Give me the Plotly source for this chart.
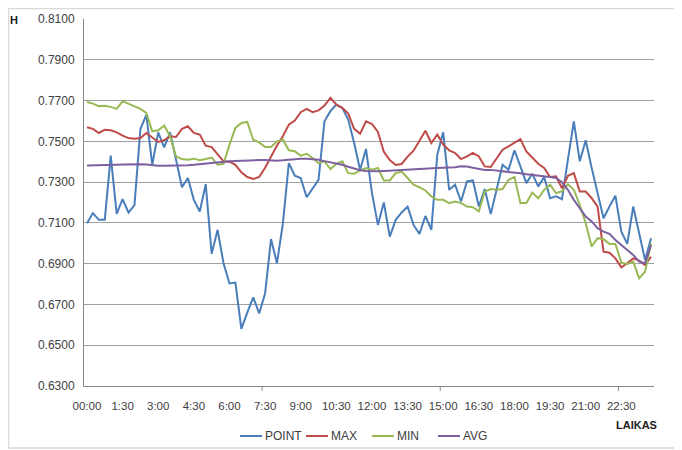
import plotly.graph_objects as go

times = ["00:00"] + [f"{i // 4}:{(i % 4) * 15:02d}" for i in range(1, 96)]
tick_labels = ["00:00", "1:30", "3:00", "4:30", "6:00", "7:30", "9:00", "10:30",
               "12:00", "13:30", "15:00", "16:30", "18:00", "19:30", "21:00", "22:30"]

point = [0.7098, 0.7148, 0.7115, 0.7115, 0.7430, 0.7144, 0.7216, 0.7150, 0.7187, 0.7560,
         0.7630, 0.7385, 0.7544, 0.7470, 0.7544, 0.7410, 0.7275, 0.7320, 0.7213, 0.7156,
         0.7290, 0.6948, 0.7066, 0.6902, 0.6803, 0.6807, 0.6580, 0.6660, 0.6735, 0.6656,
         0.6754, 0.7021, 0.6902, 0.7098, 0.7393, 0.7331, 0.7320, 0.7226, 0.7266, 0.7311,
         0.7598, 0.7648, 0.7680, 0.7664, 0.7607, 0.7492, 0.7361, 0.7462, 0.7246, 0.7090,
         0.7200, 0.7033, 0.7115, 0.7151, 0.7180, 0.7090, 0.7046, 0.7134, 0.7066, 0.7434,
         0.7544, 0.7262, 0.7287, 0.7205, 0.7303, 0.7308, 0.7180, 0.7266, 0.7143, 0.7266,
         0.7385, 0.7361, 0.7456, 0.7377, 0.7295, 0.7341, 0.7279, 0.7325, 0.7221, 0.7230,
         0.7216, 0.7410, 0.7598, 0.7402, 0.7505, 0.7370, 0.7250, 0.7123, 0.7180, 0.7233,
         0.7057, 0.6997, 0.7180, 0.7040, 0.6918, 0.7025]

max_v = [0.7569, 0.7561, 0.7541, 0.7557, 0.7554, 0.7544, 0.7528, 0.7516, 0.7513, 0.7516,
         0.7541, 0.7521, 0.7497, 0.7505, 0.7525, 0.7521, 0.7561, 0.7574, 0.7541, 0.7533,
         0.7479, 0.7472, 0.7435, 0.7402, 0.7400, 0.7385, 0.7348, 0.7325, 0.7315, 0.7325,
         0.7370, 0.7426, 0.7480, 0.7525, 0.7582, 0.7602, 0.7643, 0.7659, 0.7643, 0.7652,
         0.7675, 0.7713, 0.7680, 0.7664, 0.7636, 0.7561, 0.7538, 0.7598, 0.7585, 0.7546,
         0.7449, 0.7408, 0.7384, 0.7389, 0.7425, 0.7454, 0.7506, 0.7552, 0.7492, 0.7533,
         0.7484, 0.7456, 0.7443, 0.7413, 0.7426, 0.7443, 0.7426, 0.7377, 0.7374, 0.7418,
         0.7459, 0.7475, 0.7492, 0.7511, 0.7451, 0.7418, 0.7390, 0.7369, 0.7325, 0.7328,
         0.7270, 0.7331, 0.7344, 0.7254, 0.7254, 0.7221, 0.7180, 0.6959, 0.6954, 0.6926,
         0.6882, 0.6902, 0.6926, 0.6915, 0.6893, 0.6934]

min_v = [0.7693, 0.7685, 0.7672, 0.7675, 0.7669, 0.7659, 0.7697, 0.7685, 0.7672, 0.7659,
         0.7639, 0.7549, 0.7554, 0.7577, 0.7525, 0.7426, 0.7413, 0.7410, 0.7415, 0.7407,
         0.7413, 0.7420, 0.7385, 0.7390, 0.7484, 0.7566, 0.7590, 0.7595, 0.7508, 0.7495,
         0.7472, 0.7472, 0.7500, 0.7508, 0.7456, 0.7451, 0.7430, 0.7439, 0.7418, 0.7393,
         0.7402, 0.7364, 0.7390, 0.7402, 0.7344, 0.7341, 0.7357, 0.7369, 0.7361, 0.7369,
         0.7308, 0.7308, 0.7344, 0.7352, 0.7320, 0.7287, 0.7275, 0.7259, 0.7230, 0.7213,
         0.7213, 0.7197, 0.7205, 0.7197, 0.7180, 0.7177, 0.7156, 0.7254, 0.7266, 0.7262,
         0.7266, 0.7311, 0.7325, 0.7197, 0.7197, 0.7249, 0.7221, 0.7262, 0.7287, 0.7246,
         0.7255, 0.7290, 0.7262, 0.7189, 0.7098, 0.6984, 0.7025, 0.7020, 0.6997, 0.6997,
         0.6905, 0.6898, 0.6910, 0.6828, 0.6861, 0.7000]

avg_v = [0.7382, 0.7382, 0.7382, 0.7382, 0.7383, 0.7385, 0.7386, 0.7387, 0.7388, 0.7388,
         0.7386, 0.7382, 0.7380, 0.7380, 0.7380, 0.7380, 0.7380, 0.7383, 0.7385, 0.7388,
         0.7392, 0.7395, 0.7398, 0.7400, 0.7402, 0.7403, 0.7405, 0.7406, 0.7408, 0.7408,
         0.7408, 0.7406, 0.7405, 0.7407, 0.7410, 0.7413, 0.7415, 0.7415, 0.7412, 0.7410,
         0.7403, 0.7398, 0.7392, 0.7385, 0.7375, 0.7365, 0.7358, 0.7355, 0.7353, 0.7353,
         0.7354, 0.7356, 0.7358, 0.7360, 0.7362, 0.7364, 0.7366, 0.7367, 0.7368, 0.7369,
         0.7370, 0.7370, 0.7373, 0.7378, 0.7377, 0.7370, 0.7365, 0.7360, 0.7360, 0.7357,
         0.7355, 0.7352, 0.7347, 0.7343, 0.7338, 0.7335, 0.7333, 0.7330, 0.7325, 0.7320,
         0.7300, 0.7262, 0.7213, 0.7172, 0.7131, 0.7107, 0.7074, 0.7057, 0.7046, 0.7016,
         0.6992, 0.6970, 0.6943, 0.6910, 0.6902, 0.6992]

series_names = ["POINT", "MAX", "MIN", "AVG"]
series_values = [point, max_v, min_v, avg_v]
series_colors = ["#4A7EBB", "#BE4B48", "#98B954", "#7D60A0"]

FONT = "Liberation Sans, Arial, sans-serif"
TXT = "#404040"

# The page body has an 8px margin; work in page pixels and convert.
OFF = 8
W, H = 674, 442
L, R, T, B = 84 - OFF, 654 - OFF, 19 - OFF, 386 - OFF   # plot area in figure px


def px(xpage):
    return (xpage - OFF - L) / (R - L)


def py(ypage):
    return (B - (ypage - OFF)) / (B - T)


fig = go.Figure()
for name, vals, color in zip(series_names, series_values, series_colors):
    fig.add_trace(go.Scatter(x=times, y=vals, name=name, mode="lines",
                             line=dict(color=color, width=2), showlegend=False))

shapes = [dict(type="rect", xref="paper", yref="paper", x0=px(OFF + 0.5), x1=px(678),
               y0=py(448), y1=py(OFF + 0.5),
               line=dict(color="#D9D9D9", width=1.5), fillcolor="rgba(0,0,0,0)", layer="below")]
for xv in [29.5, 59.5, 89.5]:
    shapes.append(dict(type="line", xref="x", yref="paper", x0=xv, x1=xv, y0=0, y1=py(386 + 5),
                       line=dict(color="#868686", width=1)))

annotations = [
    dict(text="<b>H</b>", xref="paper", yref="paper", x=px(14), y=py(20), showarrow=False,
         xanchor="center", yanchor="middle", font=dict(size=11, color="#202020")),
    dict(text="<b>LAIKAS</b>", xref="paper", yref="paper", x=px(659), y=py(425),
         xanchor="right", yanchor="middle", showarrow=False, font=dict(size=11, color="#202020")),
]

# manual legend (short line samples like the original)
legend_y = 436
legend_x = [240, 306, 372, 438]
for name, color, lx in zip(series_names, series_colors, legend_x):
    shapes.append(dict(type="line", xref="paper", yref="paper", x0=px(lx), x1=px(lx + 22),
                       y0=py(legend_y), y1=py(legend_y), line=dict(color=color, width=2)))
    annotations.append(dict(text=name, xref="paper", yref="paper", x=px(lx + 23), y=py(legend_y),
                            xanchor="left", yanchor="middle", showarrow=False,
                            font=dict(size=12, color=TXT)))

fig.update_layout(
    width=W, height=H,
    margin=dict(l=L, r=W - R, t=T, b=H - B, autoexpand=False),
    paper_bgcolor="white", plot_bgcolor="white",
    font=dict(family=FONT, size=12, color=TXT),
    showlegend=False,
    xaxis=dict(type="category", range=[-0.5, 95.5], tickmode="array", tickvals=tick_labels,
               ticktext=tick_labels, showgrid=False, showline=True, linecolor="#868686",
               linewidth=1, ticks="", ticklabelstandoff=9,
               tickfont=dict(size=11.5, color=TXT), tickangle=0),
    yaxis=dict(range=[0.63, 0.81], dtick=0.02, tick0=0.63, tickformat=".4f",
               showgrid=True, gridcolor="#A0A0A0", gridwidth=1, showline=True,
               linecolor="#868686", linewidth=1, zeroline=False, ticks="",
               ticklabelstandoff=6, tickfont=dict(size=12, color=TXT)),
    shapes=shapes,
    annotations=annotations,
)

fig.write_html("out.html")
